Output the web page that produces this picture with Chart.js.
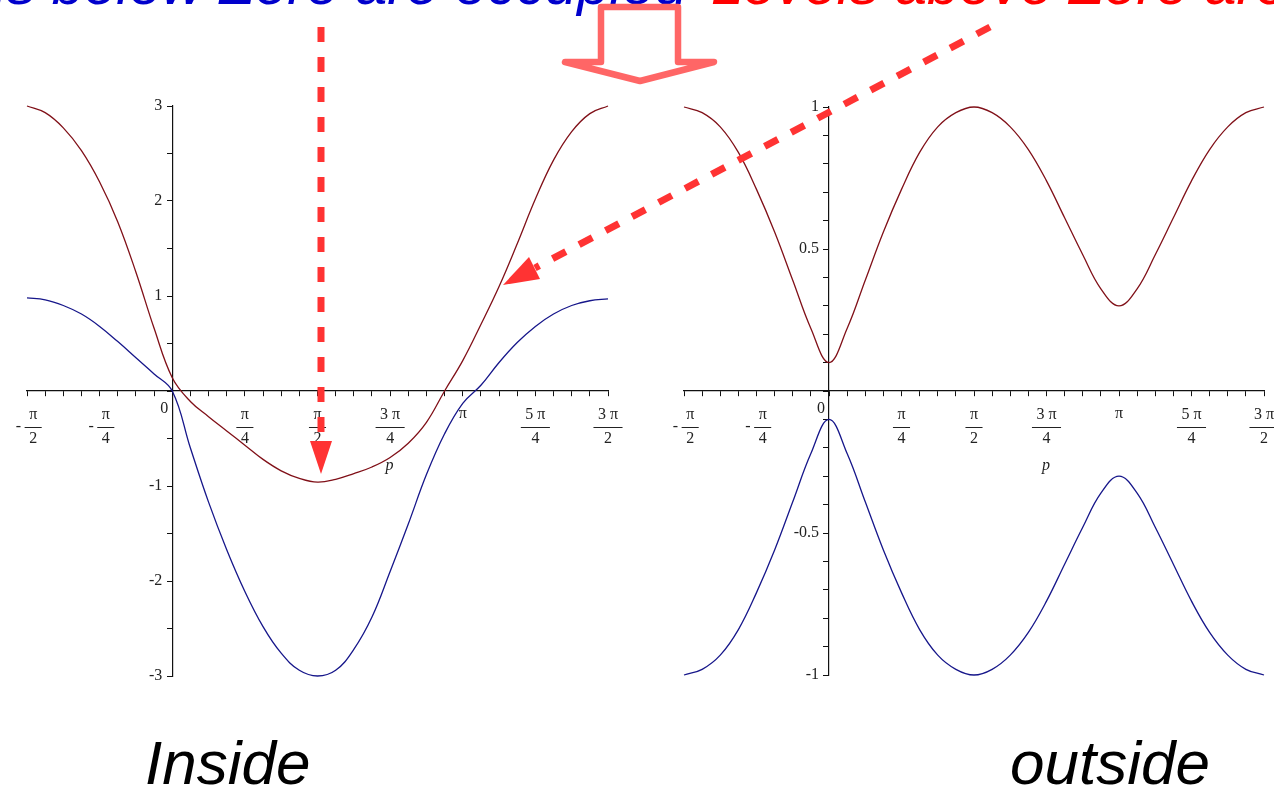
<!DOCTYPE html>
<html>
<head>
<meta charset="utf-8">
<script src="https://cdn.jsdelivr.net/npm/chart.js@4.4.1/dist/chart.umd.min.js"></script>
<style>
  html, body { margin: 0; padding: 0; background: #fff; overflow: hidden; }
  body { width: 1274px; height: 789px; position: relative; }
  canvas { position: absolute; }
  .headline { position: absolute; top: -45px; font-family: "Liberation Sans", Arial, sans-serif; font-style: italic; font-size: 58px; line-height: 58px; white-space: nowrap; }
  .caption { position: absolute; top: 732px; font-family: "Liberation Sans", Arial, sans-serif; font-style: italic; font-size: 62px; line-height: 62px; color: #000; }
  svg { position: absolute; left: 0; top: 0; }
</style>
</head>
<body>
<div class="headline" style="right:587px;color:#0000cc">Levels below Zero are occupied</div>
<div class="headline" style="left:711px;color:#ff0000">Levels above Zero are empty</div>

<canvas id="inside" width="650" height="630" style="left:0;top:80px"></canvas>
<canvas id="outside" width="624" height="630" style="left:650px;top:80px"></canvas>

<div class="caption" style="left:145px">Inside</div>
<div class="caption" style="left:1010px">outside</div>

<svg width="1274" height="789">
  <path d="M601,7 L678,7 L678,62 L714,62 L640,81 L565,62 L601,62 Z" fill="#fff" stroke="#ff6666" stroke-width="6.5" stroke-linejoin="round"/>
  <line x1="321" y1="27" x2="321" y2="441" stroke="#ff3333" stroke-width="7" stroke-dasharray="15 15"/>
  <polygon points="310,441 332,441 321,474" fill="#ff3333"/>
  <line x1="990" y1="27" x2="535" y2="268" stroke="#ff3333" stroke-width="7" stroke-dasharray="15 15"/>
  <polygon points="503,285 540,279 529,257" fill="#ff3333"/>
</svg>

<script>
// sample points p = k*pi/16, k = -8..24
const pValues = [-1.5708, -1.3744, -1.1781, -0.9817, -0.7854, -0.5890, -0.3927, -0.1963,
  0.0000, 0.1963, 0.3927, 0.5890, 0.7854, 0.9817, 1.1781, 1.3744,
  1.5708, 1.7671, 1.9635, 2.1598, 2.3562, 2.5525, 2.7489, 2.9452,
  3.1416, 3.3379, 3.5343, 3.7306, 3.9270, 4.1233, 4.3197, 4.5160, 4.7124];

// inside
const insideUpper = [3.00, 2.93, 2.77, 2.53, 2.20, 1.78, 1.25, 0.66,
  0.14, -0.11, -0.27, -0.42, -0.57, -0.72, -0.84, -0.92,
  -0.96, -0.93, -0.87, -0.80, -0.70, -0.55, -0.33, 0.00,
  0.32, 0.70, 1.10, 1.55, 2.02, 2.43, 2.73, 2.92, 3.00];
const insideLower = [0.98, 0.96, 0.90, 0.81, 0.68, 0.52, 0.35, 0.18,
  0.00, -0.60, -1.17, -1.67, -2.11, -2.48, -2.76, -2.94,
  -3.00, -2.94, -2.72, -2.38, -1.90, -1.40, -0.88, -0.45,
  -0.13, 0.06, 0.30, 0.51, 0.68, 0.81, 0.90, 0.95, 0.97];

// outside
const outsideUpper = [1.00, 0.98, 0.93, 0.84, 0.71, 0.56, 0.39, 0.22,
  0.10, 0.22, 0.39, 0.56, 0.71, 0.84, 0.93, 0.98,
  1.00, 0.98, 0.93, 0.85, 0.74, 0.61, 0.48, 0.36,
  0.30, 0.36, 0.48, 0.61, 0.74, 0.85, 0.93, 0.98, 1.00];
const outsideLower = [-1.00, -0.98, -0.93, -0.84, -0.71, -0.56, -0.39, -0.22,
  -0.10, -0.22, -0.39, -0.56, -0.71, -0.84, -0.93, -0.98,
  -1.00, -0.98, -0.93, -0.85, -0.74, -0.61, -0.48, -0.36,
  -0.30, -0.36, -0.48, -0.61, -0.74, -0.85, -0.93, -0.98, -1.00];

// x tick labels (maple style fractions)
const xTickPos = [-1.5708, -0.7854, 0, 0.7854, 1.5708, 2.3562, 3.1416, 3.9270, 4.7124];
const xTickNum = ['π', 'π', '0', 'π', 'π', '3 π', 'π', '5 π', '3 π'];
const xTickDen = ['2', '4', '', '4', '2', '4', '', '4', '2'];
const xTickSign = ['-', '-', '', '', '', '', '', '', ''];

const insideYTicks = [3, 2, 1, -1, -2, -3];
const insideYLabels = ['3', '2', '1', '-1', '-2', '-3'];
const outsideYTicks = [1, 0.5, -0.5, -1];
const outsideYLabels = ['1', '0.5', '-0.5', '-1'];

const RED = '#801018';
const BLUE = '#16168a';
const LABEL_FONT = '16px "Liberation Serif", "Times New Roman", serif';

function series(ys) {
  return pValues.map((p, i) => ({ x: p, y: ys[i] }));
}

function stepTicks(from, to, n) {
  const out = [];
  for (let i = 0; i <= n; i++) out.push({ value: from + (to - from) * i / n });
  return out;
}

// draws the maple-like tick labels and the "p" axis name
const mapleLabels = {
  id: 'mapleLabels',
  afterDraw(chart, args, opts) {
    const ctx = chart.ctx;
    const xs = chart.scales.x, ys = chart.scales.y;
    const x0 = xs.getPixelForValue(0), y0 = ys.getPixelForValue(0);
    ctx.save();
    ctx.fillStyle = '#222';
    ctx.strokeStyle = '#222';
    ctx.font = LABEL_FONT;
    ctx.textBaseline = 'middle';
    xTickPos.forEach((v, i) => {
      const x = xs.getPixelForValue(v);
      const num = xTickNum[i], den = xTickDen[i], sign = xTickSign[i];
      if (num === '0') {
        ctx.textAlign = 'center';
        ctx.fillText('0', x0 - 8, y0 + 18);
        return;
      }
      if (!den) {
        ctx.textAlign = 'center';
        ctx.fillText(num, x, y0 + 23);
        return;
      }
      const w = Math.max(ctx.measureText(num).width, ctx.measureText(den).width) + 9;
      const sw = sign ? ctx.measureText(sign).width + 7 : 0;
      const cx = x + sw / 2;
      ctx.textAlign = 'center';
      ctx.fillText(num, cx, y0 + 24);
      ctx.fillText(den, cx, y0 + 48);
      ctx.lineWidth = 1;
      ctx.beginPath();
      ctx.moveTo(cx - w / 2, y0 + 36.5);
      ctx.lineTo(cx + w / 2, y0 + 36.5);
      ctx.stroke();
      if (sign) ctx.fillText(sign, cx - w / 2 - sw / 2, y0 + 36);
    });
    ctx.textAlign = 'right';
    opts.yTicks.forEach((v, i) => {
      ctx.fillText(opts.yLabels[i], x0 - 10, ys.getPixelForValue(v));
    });
    ctx.font = 'italic ' + LABEL_FONT;
    ctx.textAlign = 'center';
    ctx.fillText('p', xs.getPixelForValue(opts.pAt), y0 + 75);
    ctx.restore();
  }
};

function makePlot(id, upper, lower, yMin, yMax, yTickCount, yTicks, yLabels, pad, pAt) {
  return new Chart(document.getElementById(id), {
    type: 'line',
    data: {
      datasets: [
        { data: series(upper), borderColor: RED, borderWidth: 1.3, pointRadius: 0, tension: 0.4, clip: false },
        { data: series(lower), borderColor: BLUE, borderWidth: 1.3, pointRadius: 0, tension: 0.4, clip: false }
      ]
    },
    options: {
      responsive: false,
      animation: false,
      events: [],
      layout: { padding: pad },
      plugins: { legend: { display: false }, tooltip: { enabled: false }, mapleLabels: { yTicks, yLabels, pAt } },
      scales: {
        x: {
          type: 'linear',
          min: -1.5708, max: 4.7124,
          position: { y: 0 },
          afterBuildTicks: (axis) => { axis.ticks = stepTicks(-1.5708, 4.7124, 32); },
          ticks: { display: false },
          grid: { drawOnChartArea: false, tickLength: 5, tickColor: '#111', tickWidth: 1 },
          border: { color: '#111', width: 1.2 }
        },
        y: {
          type: 'linear',
          min: yMin, max: yMax,
          position: { x: 0 },
          afterBuildTicks: (axis) => { axis.ticks = stepTicks(yMin, yMax, yTickCount); },
          ticks: { display: false },
          grid: { drawOnChartArea: false, tickLength: 5, tickColor: '#111', tickWidth: 1 },
          border: { color: '#111', width: 1.2 }
        }
      }
    },
    plugins: [mapleLabels]
  });
}

makePlot('inside', insideUpper, insideLower, -3, 3, 12, insideYTicks, insideYLabels,
  { left: 27, right: 42, top: 26, bottom: 34 }, 2.35);
makePlot('outside', outsideUpper, outsideLower, -1, 1, 20, outsideYTicks, outsideYLabels,
  { left: 34, right: 10, top: 27, bottom: 35 }, 2.35);
</script>
</body>
</html>
